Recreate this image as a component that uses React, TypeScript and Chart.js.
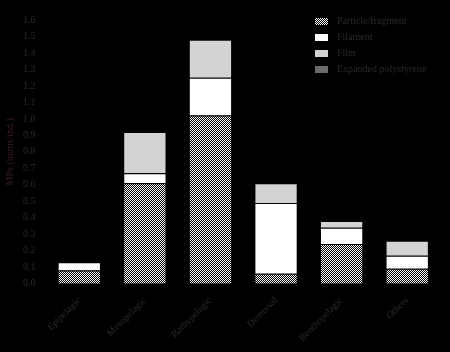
import React, { useEffect, useRef } from "react";
import { Chart, registerables } from "chart.js";
Chart.register(...registerables);

const categories = ["Epipelagic", "Mesopelagic", "Bathypelagic", "Demersal", "Benthopelagic", "Others"];
const particle = [0.08, 0.61, 1.02, 0.06, 0.24, 0.09];
const filament = [0.05, 0.06, 0.23, 0.43, 0.10, 0.08];
const film = [0.0, 0.25, 0.23, 0.12, 0.04, 0.09];
const eps = [0, 0, 0, 0, 0, 0];
const seriesNames = ["Particle/fragment", "Filament", "Film", "Expanded polystyrene"];
const yTicks = [0, 0.1, 0.2, 0.3, 0.4, 0.5, 0.6, 0.7, 0.8, 0.9, 1.0, 1.1, 1.2, 1.3, 1.4, 1.5, 1.6];

function makePattern(): CanvasPattern | string {
  const c = document.createElement("canvas");
  c.width = 4;
  c.height = 4;
  const g = c.getContext("2d");
  if (!g) return "#888";
  g.fillStyle = "#000";
  g.fillRect(0, 0, 4, 4);
  g.fillStyle = "#fff";
  g.fillRect(0, 0, 1, 1);
  g.fillRect(2, 0, 1, 1);
  g.fillRect(1, 1, 1, 1);
  g.fillRect(3, 1, 1, 1);
  g.fillRect(0, 2, 1, 1);
  g.fillRect(2, 2, 1, 1);
  g.fillRect(1, 3, 1, 1);
  g.fillRect(3, 3, 1, 1);
  const p = g.createPattern(c, "repeat");
  return p || "#888";
}

export default function App() {
  const ref = useRef<HTMLCanvasElement>(null);
  useEffect(() => {
    document.body.style.margin = "0";
    document.body.style.background = "#000";
    const pat = makePattern();
    const colors: any[] = [pat, "#ffffff", "#d3d3d3", "#6b6b6b"];
    const textColor = "#2a2a2a";
    const legendPlugin = {
      id: "customLegend",
      afterDraw(chart: any) {
        const ctx = chart.ctx;
        ctx.save();
        ctx.font = "10px 'Liberation Serif'";
        ctx.textBaseline = "middle";
        seriesNames.forEach((n, i) => {
          const y = 21 + i * 16;
          ctx.fillStyle = colors[i];
          ctx.fillRect(315, y - 3, 13, 7);
          ctx.fillStyle = textColor;
          ctx.fillText(n, 337, y);
        });
        ctx.restore();
      },
    };
    const mk = (label: string, data: number[], i: number) => ({
      label,
      data,
      backgroundColor: colors[i],
      borderColor: "#000",
      borderWidth: 1,
      barPercentage: 0.66,
      categoryPercentage: 1,
    });
    const chart = new Chart(ref.current!, {
      type: "bar",
      data: {
        labels: categories,
        datasets: [mk(seriesNames[0], particle, 0), mk(seriesNames[1], filament, 1), mk(seriesNames[2], film, 2), mk(seriesNames[3], eps, 3)],
      },
      options: {
        animation: false,
        responsive: false,
        layout: { padding: { top: 20, right: 10, left: 0, bottom: 5 } },
        plugins: { legend: { display: false }, tooltip: { enabled: false } },
        scales: {
          x: {
            stacked: true,
            grid: { display: false },
            border: { display: false },
            ticks: { color: textColor, font: { family: "'Liberation Serif'", size: 10 }, maxRotation: 45, minRotation: 45 },
          },
          y: {
            stacked: true,
            min: 0,
            max: 1.6,
            grid: { display: false },
            border: { display: false },
            afterBuildTicks: (axis: any) => {
              axis.ticks = yTicks.map((v) => ({ value: v }));
            },
            ticks: {
              color: textColor,
              font: { family: "'Liberation Serif'", size: 10 },
              callback: (v: any) => Number(v).toFixed(1),
            },
            title: { display: true, text: "MPs (items/ind.)", color: "#3a1a2a", font: { family: "'Liberation Serif'", size: 10 } },
          },
        },
      },
      plugins: [legendPlugin],
    });
    return () => chart.destroy();
  }, []);
  return (
    <div style={{ width: 450, height: 352, background: "#000" }}>
      <canvas ref={ref} width={450} height={352} />
    </div>
  );
}
